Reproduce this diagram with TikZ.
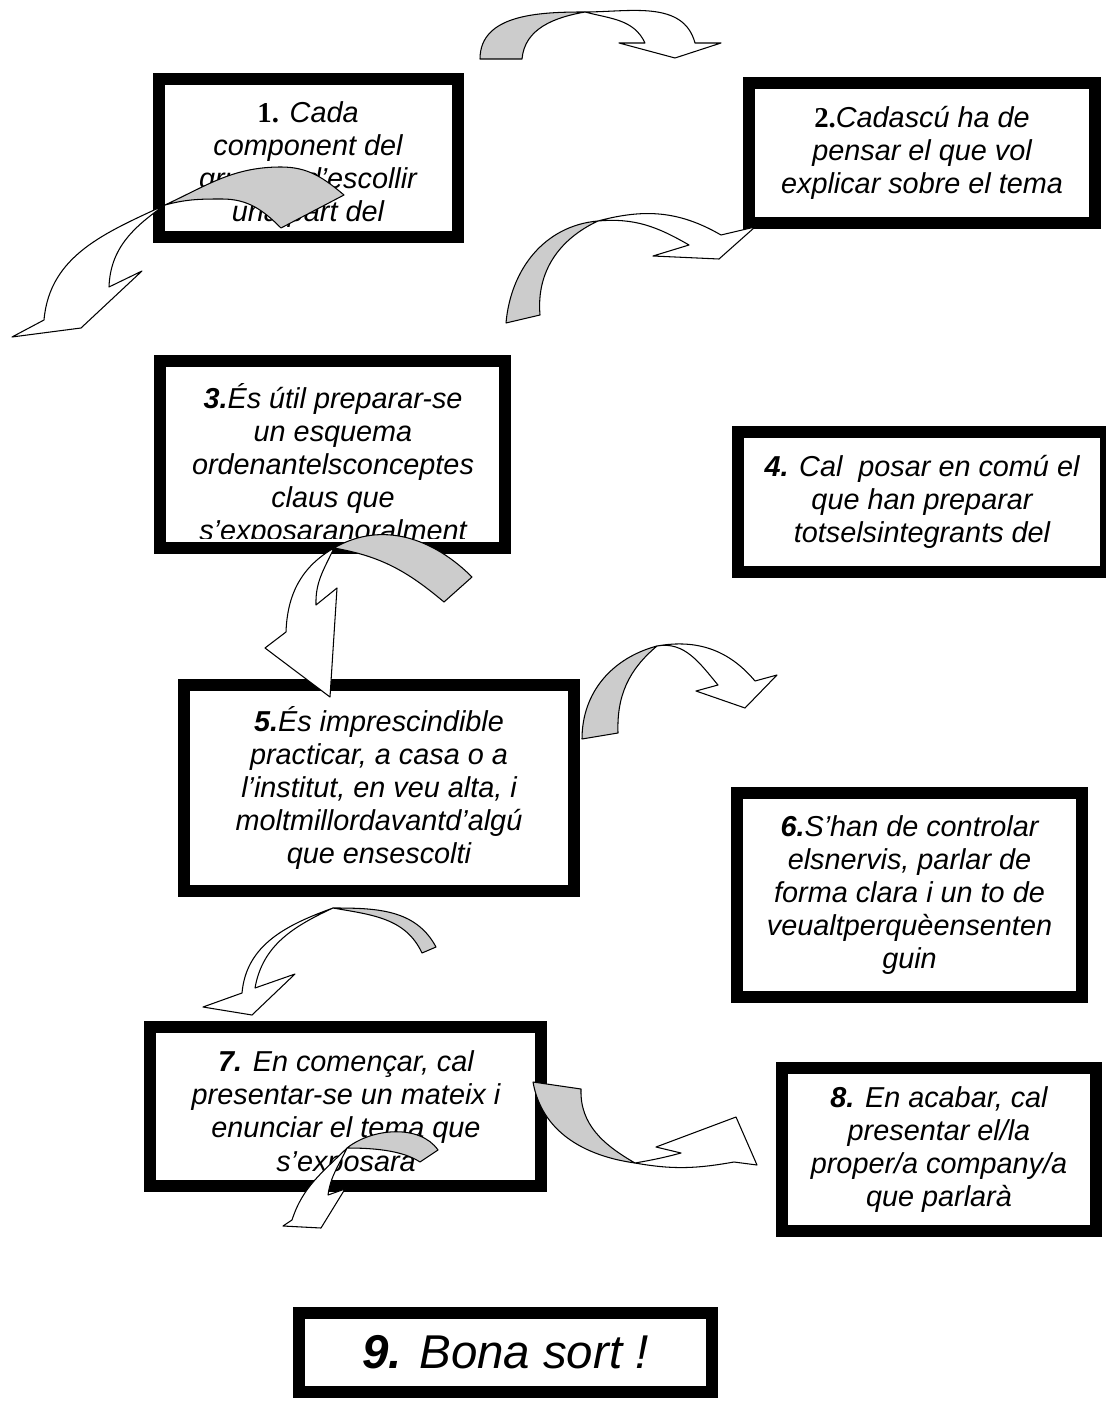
\documentclass[tikz,border=0pt]{standalone}
\usepackage{fontspec}
\setmainfont{Liberation Sans}
\newfontfamily\numserif{Liberation Serif}
\newcommand\boxtext{\fontsize{16.4}{18.8}\selectfont\itshape}
\newcommand\serifno[1]{{\numserif\upshape\bfseries #1}}
\newcommand\sansno[1]{{\bfseries #1}}

\begin{document}
\begin{tikzpicture}[x=0.02cm, y=0.02cm,
  frame/.style={draw, line width=0.24cm, inner sep=0pt, align=center, font=\boxtext},
  txt/.style={inner sep=0pt, align=center, font=\boxtext},
  ribbon/.style={draw, line width=0.6pt, line join=round},
  back/.style={ribbon, fill=black!20},
  front/.style={ribbon, fill=white}]
\useasboundingbox (0,0) rectangle (1105,-1408);

\node[frame, minimum width=5.98cm, minimum height=3.16cm] (b1) at (308.5,-158) {};
\node[txt] (t1) at (308,-165) {\serifno{1.} Cada\\component del\\grup ha d’escollir\\una part del};
\node[frame, minimum width=6.92cm, minimum height=2.80cm] (b2) at (922,-153) {\serifno{2.}Cadascú ha de\\pensar el que vol\\explicar sobre el tema};
\node[frame, minimum width=6.90cm, minimum height=3.74cm] (b3) at (332.5,-454.5) {};
\begin{scope}
  \clip ([shift={(6,15)}]b3.south west) rectangle ([shift={(-6,-6)}]b3.north east);
  \node[txt] (t3) at (333,-465) {\sansno{3.}És útil preparar-se\\un esquema\\ordenantelsconceptes\\claus que\\s’exposaranoralment};
\end{scope}
\node[frame, minimum width=7.36cm, minimum height=2.80cm] (b4) at (922,-502) {\sansno{4.} Cal\ \ posar en comú el\\que han preparar\\totselsintegrants del};
\node[frame, minimum width=7.80cm, minimum height=4.12cm] (b5) at (379,-788) {\sansno{5.}És imprescindible\\practicar, a casa o a\\l’institut, en veu alta, i\\moltmillordavantd’algú\\que ensescolti};
\node[frame, minimum width=6.90cm, minimum height=4.08cm] (b6) at (909.5,-895) {\sansno{6.}S’han de controlar\\elsnervis, parlar de\\forma clara i un to de\\veualtperquèensenten\\guin};
\node[frame, minimum width=7.82cm, minimum height=3.18cm] (b7) at (345.5,-1106.5) {};
\node[txt] (t7) at (346,-1114) {\sansno{7.} En començar, cal\\presentar-se un mateix i\\enunciar el tema que\\s’exposara};
\node[frame, minimum width=6.28cm, minimum height=3.26cm] (b8) at (939,-1149.5) {\sansno{8.} En acabar, cal\\presentar el/la\\proper/a company/a\\que parlarà};
\node[frame, minimum width=8.26cm, minimum height=1.58cm, font=\fontsize{27}{32}\selectfont\itshape] (b9) at (505.5,-1352.5) {\sansno{9.} Bona sort !};

\draw[back] (480,-59) -- (522,-59) to[out=85,in=190] (585,-12) to[out=180,in=90] (480,-59) -- cycle;
\draw[front] (585,-12) to[out=0,in=105] (695,-43) -- (721,-43) -- (675,-58) -- (619,-43) -- (645,-43) to[out=115,in=345] (585,-12) -- cycle;

\draw[back] (165,-205) to[out=25,in=180] (281,-167) to[out=0,in=140] (344,-195) -- (281,-228) to[out=135,in=0] (222,-199) to[out=180,in=15] (165,-205) -- cycle;
\draw[front] (165,-205) to[out=205,in=85] (44,-320) -- (12,-337) -- (81,-328) -- (142,-271) -- (109,-287) to[out=88,in=215] (165,-205) -- cycle;

\draw[back] (506,-323) -- (540,-315) to[out=95,in=205] (598,-221) to[out=185,in=85] (506,-323) -- cycle;
\draw[front] (598,-221) to[out=15,in=150] (721,-235) -- (755,-227) -- (719,-259) -- (653,-256) -- (689,-245) to[out=150,in=5] (598,-221) -- cycle;

\draw[back] (472,-577) -- (444,-602) to[out=140,in=350] (334,-548) to[out=30,in=135] (472,-577) -- cycle;
\draw[front] (334,-548) to[out=210,in=88] (286,-632) -- (265,-648) -- (330,-697) -- (337,-588) -- (316,-605) to[out=92,in=245] (334,-548) -- cycle;

\draw[back] (582,-739) -- (618,-733) to[out=92,in=220] (657,-646) to[out=195,in=90] (582,-739) -- cycle;
\draw[front] (657,-646) to[out=10,in=130] (755,-681) -- (777,-675) -- (745,-708) -- (696,-691) -- (718,-685) to[out=130,in=10] (657,-646) -- cycle;

\draw[back] (422,-953) -- (436,-947) to[out=118,in=0] (333,-908) to[out=350,in=115] (422,-953) -- cycle;
\draw[front] (333,-908) to[out=200,in=85] (242,-993) -- (203,-1007) -- (252,-1015) -- (295,-974) -- (255,-988) to[out=80,in=205] (333,-908) -- cycle;

\draw[back] (533,-1082) -- (581,-1089) to[out=268,in=150] (635,-1163) to[out=172,in=280] (533,-1082) -- cycle;
\draw[front] (635,-1163) to[out=350,in=190] (734,-1162) -- (757,-1165) -- (736,-1117) -- (656,-1147) -- (681,-1153) to[out=195,in=10] (635,-1163) -- cycle;

\draw[back] (347,-1148) .. controls (372,-1128) and (420,-1124) .. (438,-1150) -- (420,-1162) .. controls (402,-1150) and (372,-1148) .. (347,-1148) -- cycle;
\draw[front] (347,-1148) to[out=225,in=72] (292,-1220) -- (283,-1226) -- (321,-1228) -- (345,-1189) -- (328,-1195) to[out=82,in=245] (347,-1148) -- cycle;
\end{tikzpicture}
\end{document}
